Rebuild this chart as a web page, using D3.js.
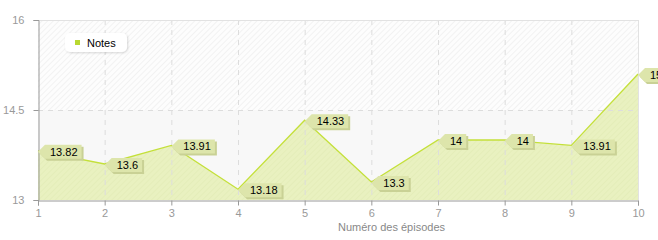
<!DOCTYPE html>
<html>
<head>
<meta charset="utf-8">
<script src="https://cdn.jsdelivr.net/npm/d3@7"></script>
<style>
body { margin: 0; background: #fff; }
text { font-family: "Liberation Sans", Arial, sans-serif; }
</style>
</head>
<body>
<div id="chart"></div>
<script>
var width = 658;
var height = 240;

// data
var episodes = [1, 2, 3, 4, 5, 6, 7, 8, 9, 10];
var notes = [13.82, 13.6, 13.91, 13.18, 14.33, 13.3, 14, 14, 13.91, 15.1];
var yTicks = [13, 14.5, 16];
var seriesName = "Notes";
var xTitle = "Numéro des épisodes";

var plotLeft = 38, plotRight = 638, plotTop = 20, plotBottom = 200;

var x = d3.scaleLinear().domain([1, 10]).range([plotLeft, plotRight]);
var y = d3.scaleLinear().domain([13, 16]).range([plotBottom, plotTop]);

var svg = d3.select("#chart").append("svg")
  .attr("width", width)
  .attr("height", height);

var defs = svg.append("defs");
var hatch = defs.append("pattern")
  .attr("id", "hatch")
  .attr("width", 4).attr("height", 4)
  .attr("patternUnits", "userSpaceOnUse")
  .attr("patternTransform", "rotate(45)");
hatch.append("rect").attr("width", 4).attr("height", 4).attr("fill", "#fdfdfd");
hatch.append("line").attr("x1", 0).attr("y1", 0).attr("x2", 0).attr("y2", 4)
  .attr("stroke", "#efefef").attr("stroke-width", 1.5);

var hatch2 = defs.append("pattern")
  .attr("id", "hatch2")
  .attr("width", 4).attr("height", 4)
  .attr("patternUnits", "userSpaceOnUse")
  .attr("patternTransform", "rotate(45)");
hatch2.append("rect").attr("width", 4).attr("height", 4).attr("fill", "#e9f1c0");
hatch2.append("line").attr("x1", 0).attr("y1", 0).attr("x2", 0).attr("y2", 4)
  .attr("stroke", "#e2ebb4").attr("stroke-width", 1.2);

var shadow = defs.append("filter").attr("id", "shadow")
  .attr("x", "-20%").attr("y", "-20%").attr("width", "150%").attr("height", "160%");
shadow.append("feDropShadow").attr("dx", 1).attr("dy", 1).attr("stdDeviation", 1)
  .attr("flood-color", "#000").attr("flood-opacity", 0.15);

// background bands
svg.append("rect")
  .attr("x", plotLeft).attr("y", y(16))
  .attr("width", plotRight - plotLeft).attr("height", y(14.5) - y(16))
  .attr("fill", "url(#hatch)");
svg.append("rect")
  .attr("x", plotLeft).attr("y", y(14.5))
  .attr("width", plotRight - plotLeft).attr("height", y(13) - y(14.5))
  .attr("fill", "#f8f8f8");

// area
var area = d3.area()
  .x(function(d, i) { return x(episodes[i]); })
  .y0(y(13))
  .y1(function(d) { return y(d); });
svg.append("path")
  .datum(notes)
  .attr("d", area)
  .attr("fill", "url(#hatch2)");

// grid
svg.append("g").selectAll("line")
  .data(episodes.slice(1, -1))
  .enter().append("line")
  .attr("x1", function(d) { return x(d) + 0.5; })
  .attr("x2", function(d) { return x(d) + 0.5; })
  .attr("y1", plotTop).attr("y2", plotBottom)
  .attr("stroke", "#dddddd")
  .attr("stroke-dasharray", "5,5");
svg.append("line")
  .attr("x1", plotLeft).attr("x2", plotRight)
  .attr("y1", y(14.5) + 0.5).attr("y2", y(14.5) + 0.5)
  .attr("stroke", "#dddddd")
  .attr("stroke-dasharray", "5,5");
svg.append("line")
  .attr("x1", plotLeft).attr("x2", plotRight)
  .attr("y1", y(16) + 0.5).attr("y2", y(16) + 0.5)
  .attr("stroke", "#e2e2e2");
svg.append("line")
  .attr("x1", plotRight + 0.5).attr("x2", plotRight + 0.5)
  .attr("y1", plotTop).attr("y2", plotBottom)
  .attr("stroke", "#e2e2e2");

// line
var line = d3.line()
  .x(function(d, i) { return x(episodes[i]); })
  .y(function(d) { return y(d); });
svg.append("path")
  .datum(notes)
  .attr("d", line)
  .attr("fill", "none")
  .attr("stroke", "#c4e03a")
  .attr("stroke-width", 1.3);

// axes
var xAxis = d3.axisBottom(x).tickValues(episodes).tickSize(5).tickPadding(4)
  .tickFormat(d3.format("d"));
var yAxis = d3.axisLeft(y).tickValues(yTicks).tickSize(5).tickPadding(9)
  .tickFormat(function(d) { return d; });

var gx = svg.append("g").attr("transform", "translate(0," + (plotBottom + 0.5) + ")").call(xAxis);
var gy = svg.append("g").attr("transform", "translate(" + (plotLeft + 0.5) + ",0)").call(yAxis);
[gx, gy].forEach(function(g) {
  g.select(".domain").attr("stroke", "#999");
  g.selectAll(".tick line").attr("stroke", "#999");
  g.selectAll(".tick text").attr("fill", "#999").style("font-size", "11px")
    .style("font-family", "'Liberation Sans', Arial, sans-serif");
});

svg.append("text")
  .attr("x", (plotLeft + plotRight) / 2)
  .attr("y", 231)
  .attr("fill", "#888")
  .style("font-size", "11px")
  .text(xTitle);

// value labels
var labels = svg.append("g").selectAll("g")
  .data(notes)
  .enter().append("g")
  .attr("transform", function(d, i) {
    return "translate(" + x(episodes[i]) + "," + (y(d) + 1) + ")";
  });
labels.each(function(d) {
  var g = d3.select(this);
  var t = g.append("text")
    .attr("x", 12).attr("y", 4)
    .style("font-size", "11px")
    .attr("fill", "#000")
    .text(d);
  var w = t.node().getComputedTextLength() + 9;
  var pts = [[0, 0], [7, -7], [7 + w, -7], [7 + w, 7], [7, 7]];
  g.insert("path", "text")
    .attr("d", "M" + pts.map(function(p) { return (p[0] + 2) + "," + (p[1] + 2); }).join("L") + "Z")
    .attr("fill", "#c9d195");
  g.insert("path", "text")
    .attr("d", "M" + pts.join("L") + "Z")
    .attr("fill", "#dde5ab");
});

// legend
var legend = svg.append("g").attr("transform", "translate(65,33)");
legend.append("rect")
  .attr("width", 62).attr("height", 19).attr("rx", 5)
  .attr("fill", "#fff")
  .attr("filter", "url(#shadow)");
legend.append("rect")
  .attr("x", 10).attr("y", 7).attr("width", 5).attr("height", 5)
  .attr("fill", "#b8d830");
legend.append("text")
  .attr("x", 22).attr("y", 14)
  .style("font-size", "11px")
  .attr("fill", "#000")
  .text(seriesName);
</script>
</body>
</html>
